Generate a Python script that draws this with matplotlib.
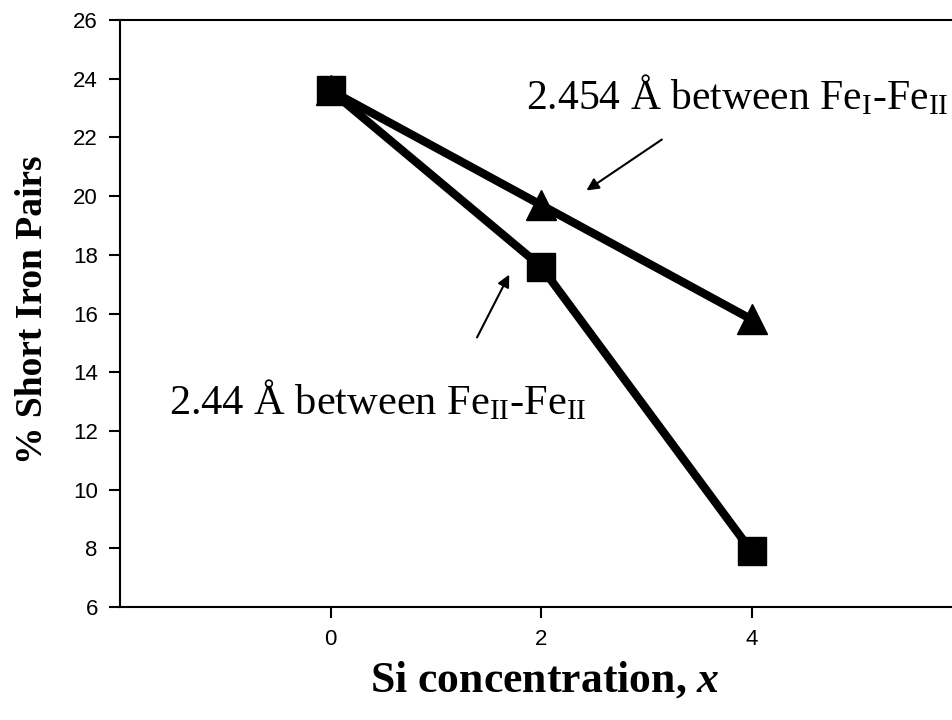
import matplotlib
matplotlib.use("Agg")
import matplotlib.pyplot as plt

plt.rcParams['mathtext.fontset'] = 'custom'
plt.rcParams['mathtext.rm'] = 'Liberation Serif'
plt.rcParams['mathtext.it'] = 'Liberation Serif:italic'
plt.rcParams['mathtext.bf'] = 'Liberation Serif:bold'
plt.rcParams['mathtext.bfit'] = 'Liberation Serif:bold:italic'

x_vals = [0, 2, 4]
fe1_fe2 = [23.6, 19.7, 15.8]   # 2.454 Å between FeI-FeII (triangles)
fe2_fe2 = [23.6, 17.6, 7.9]    # 2.44 Å between FeII-FeII (squares)
x_ticks = [0, 2, 4]
y_ticks = list(range(6, 27, 2))

fig = plt.figure(figsize=(9.52, 7.2), dpi=100)
ax = fig.add_axes([120/952, (720-607)/720, (962-120)/952, 587/720])

ax.plot(x_vals, fe1_fe2, color='black', lw=6, marker='^', markersize=21.5, zorder=3)
ax.plot(x_vals, fe2_fe2, color='black', lw=6, marker='s', markersize=19.5, zorder=4)

ax.set_xlim(-2, 6)
ax.set_ylim(6, 26)
ax.set_xticks(x_ticks)
ax.set_yticks(y_ticks)
ax.tick_params(direction='out', length=8, width=1.5, labelsize=16, pad=8)
for lab in ax.get_xticklabels() + ax.get_yticklabels():
    lab.set_family('Liberation Sans')
for s in ax.spines.values():
    s.set_linewidth(1.5)

ax.set_ylabel('% Short Iron Pairs', family='Liberation Serif', fontweight='bold', fontsize=27)
ax.yaxis.label.set_va('baseline')
ax.yaxis.set_label_coords(-0.0926, 0.506)
ax.set_xlabel('Si concentration, $\\mathbfit{x}$', family='Liberation Serif', fontweight='bold', fontsize=31.5)
ax.xaxis.label.set_va('baseline')
ax.xaxis.set_label_coords(0.505, -0.1448)

ax.text(1.86, 22.95, '2.454 Å between Fe$_\\mathrm{I}$-Fe$_\\mathrm{II}$', family='Liberation Serif', fontsize=30, va='baseline')
ax.text(-1.53, 12.55, '2.44 Å between Fe$_\\mathrm{II}$-Fe$_\\mathrm{II}$', family='Liberation Serif', fontsize=30.5, va='baseline')

ax.annotate('', xy=(2.41, 20.14), xytext=(3.17, 21.98),
            arrowprops=dict(arrowstyle='-|>', color='black', lw=1.5, mutation_scale=18))
ax.annotate('', xy=(1.71, 17.41), xytext=(1.38, 15.10),
            arrowprops=dict(arrowstyle='-|>', color='black', lw=1.5, mutation_scale=18))

fig.savefig('out.png', dpi=100)
